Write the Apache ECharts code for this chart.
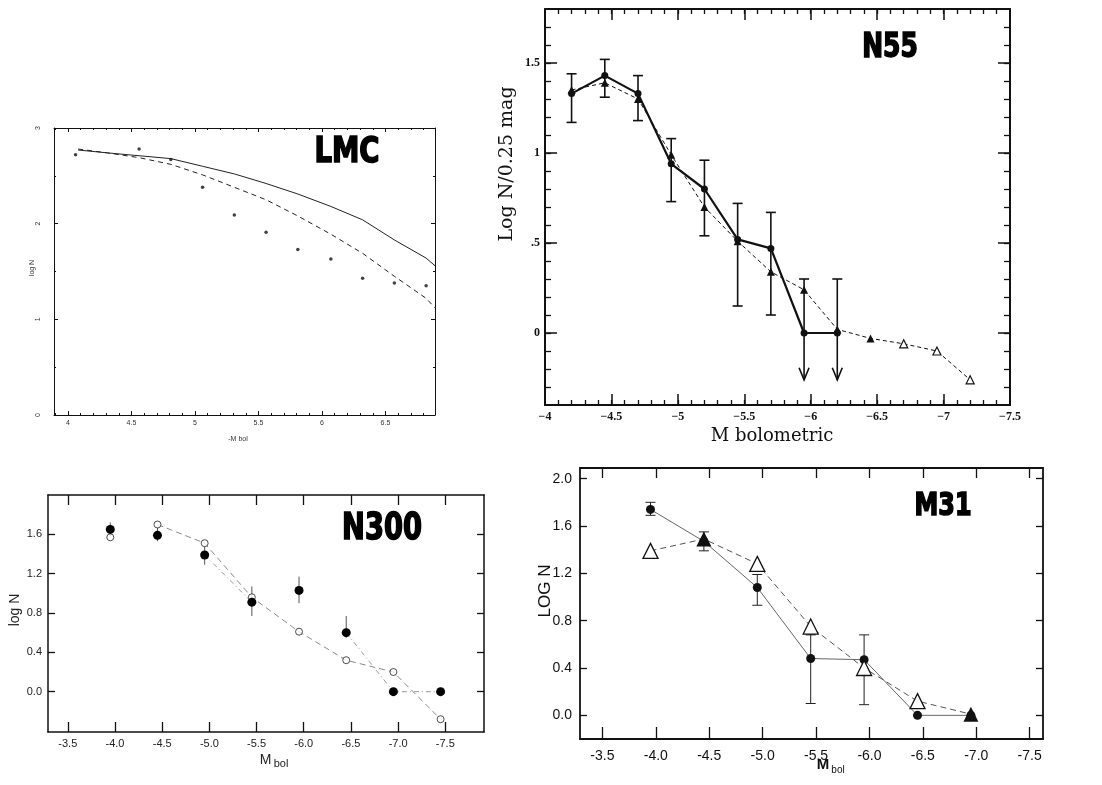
<!DOCTYPE html>
<html>
<head>
<meta charset="utf-8">
<script src="https://cdn.jsdelivr.net/npm/echarts@6/dist/echarts.min.js"></script>
<style>
html,body{margin:0;padding:0;background:#fff;}
#c{width:1102px;height:785px;}
</style>
</head>
<body>
<div id="c"></div>
<script>
// ================= DATA =================
// --- LMC panel ---
const lmcObsX = [4.06, 4.56, 4.81, 5.06, 5.31, 5.56, 5.81, 6.07, 6.32, 6.57, 6.82];
const lmcObsY = [2.72, 2.78, 2.67, 2.38, 2.09, 1.91, 1.73, 1.63, 1.43, 1.38, 1.35];
const lmcModelX = [4.08, 4.31, 4.56, 4.81, 5.06, 5.31, 5.56, 5.81, 6.07, 6.32, 6.57, 6.82, 6.89];
const lmcSolidY = [2.77, 2.74, 2.71, 2.68, 2.60, 2.52, 2.42, 2.31, 2.18, 2.04, 1.83, 1.64, 1.56];
const lmcDashedY = [2.78, 2.74, 2.69, 2.62, 2.51, 2.38, 2.25, 2.08, 1.89, 1.69, 1.45, 1.22, 1.12];
const lmcTicksX = [4, 4.5, 5, 5.5, 6, 6.5];
const lmcLabelsX = ['4', '4.5', '5', '5.5', '6', '6.5'];
const lmcTicksY = [0, 1, 2, 3];
const lmcLabelsY = ['0', '1', '2', '3'];

// --- N55 panel ---
const n55X = [-4.2, -4.45, -4.7, -4.95, -5.2, -5.45, -5.7, -5.95, -6.2];
const n55Y = [1.33, 1.43, 1.33, 0.94, 0.80, 0.52, 0.47, 0.0, 0.0];
const n55ErrHi = [1.44, 1.52, 1.43, 1.08, 0.96, 0.72, 0.67, 0.30, 0.30];
const n55ErrLo = [1.17, 1.31, 1.18, 0.73, 0.54, 0.15, 0.10, -0.26, -0.26];
const n55UpperLimit = [0, 0, 0, 0, 0, 0, 0, 1, 1];
const n55TriX = [-4.2, -4.45, -4.7, -4.95, -5.2, -5.45, -5.7, -5.95, -6.2, -6.45, -6.7, -6.95, -7.2];
const n55TriY = [1.35, 1.39, 1.30, 0.99, 0.70, 0.51, 0.34, 0.24, 0.02, -0.03, -0.06, -0.10, -0.26];
const n55TriOpen = [0, 0, 0, 0, 0, 0, 0, 0, 0, 0, 1, 1, 1];
const n55TicksX = [-4, -4.5, -5, -5.5, -6, -6.5, -7, -7.5];
const n55LabelsX = ['\u22124', '\u22124.5', '\u22125', '\u22125.5', '\u22126', '\u22126.5', '\u22127', '\u22127.5'];
const n55TicksY = [0, 0.5, 1, 1.5];
const n55LabelsY = ['0', '.5', '1', '1.5'];

// --- N300 panel ---
const n300X = [-3.95, -4.45, -4.95, -5.45, -5.95, -6.45, -6.95, -7.45];
const n300Filled = [1.65, 1.59, 1.39, 0.91, 1.03, 0.60, 0.0, 0.0];
const n300FilledJoined = [0, 0, 1, 1, 0, 1, 1, 1];
const n300ErrHi = [1.72, 1.67, 1.48, 1.07, 1.17, 0.77, null, null];
const n300ErrLo = [1.58, 1.53, 1.29, 0.77, 0.90, 0.55, null, null];
const n300Open = [1.57, 1.70, 1.51, 0.96, 0.61, 0.32, 0.20, -0.28];
const n300OpenJoined = [0, 1, 1, 1, 1, 1, 1, 1];
const n300TicksX = [-3.5, -4.0, -4.5, -5.0, -5.5, -6.0, -6.5, -7.0, -7.5];
const n300LabelsX = ['-3.5', '-4.0', '-4.5', '-5.0', '-5.5', '-6.0', '-6.5', '-7.0', '-7.5'];
const n300TicksY = [0, 0.4, 0.8, 1.2, 1.6];
const n300LabelsY = ['0.0', '0.4', '0.8', '1.2', '1.6'];

// --- M31 panel ---
const m31X = [-3.95, -4.45, -4.95, -5.45, -5.95, -6.45, -6.95];
const m31Filled = [1.74, 1.47, 1.08, 0.48, 0.47, 0.0, 0.0];
const m31ErrHi = [1.80, 1.55, 1.19, 0.68, 0.68, null, null];
const m31ErrLo = [1.69, 1.39, 0.93, 0.10, 0.09, null, null];
const m31Open = [1.39, 1.49, 1.28, 0.75, 0.40, 0.12, 0.01];
const m31TriFilled = [0, 1, 0, 0, 0, 0, 1];
const m31TicksX = [-3.5, -4.0, -4.5, -5.0, -5.5, -6.0, -6.5, -7.0, -7.5];
const m31LabelsX = ['-3.5', '-4.0', '-4.5', '-5.0', '-5.5', '-6.0', '-6.5', '-7.0', '-7.5'];
const m31TicksY = [0, 0.4, 0.8, 1.2, 1.6, 2.0];
const m31LabelsY = ['0.0', '0.4', '0.8', '1.2', '1.6', '2.0'];

// ================= helpers =================
function steps(a, b, s) {
  const out = [];
  for (let v = a; v <= b + 1e-9; v += s) out.push(Math.round(v * 1000) / 1000);
  return out;
}
function nearestIdx(arr, v) {
  let bi = 0, bd = Infinity;
  arr.forEach((a, i) => { const d = Math.abs(a - v); if (d < bd) { bd = d; bi = i; } });
  return bi;
}
function zip(xs, ys) { return xs.map((x, i) => [x, ys[i]]); }
function zipJoined(xs, ys, joined) { return xs.map((x, i) => [x, joined[i] ? ys[i] : null]); }

function axis(grid, pos, min, max, inv, ticks, tickLen, lineW, labels, labelStyle, tickW) {
  const a = {
    type: 'value', gridIndex: grid, position: pos, min: min, max: max, inverse: !!inv, silent: true,
    splitLine: { show: false }, splitArea: { show: false },
    axisLine: { show: lineW > 0, onZero: false, lineStyle: { color: '#111', width: lineW > 0 ? lineW : 1 } },
    axisTick: { show: ticks.length > 0, inside: true, length: tickLen, customValues: ticks,
      lineStyle: { color: '#111', width: tickW || 1 } },
    axisLabel: { show: false },
    axisPointer: { show: false }
  };
  if (labels) {
    a.axisLabel = Object.assign({
      show: true, customValues: labels.v,
      formatter: (v) => labels.t[nearestIdx(labels.v, v)]
    }, labelStyle);
  }
  return a;
}

function errRender(color, width, cap) {
  return function (params, api) {
    const x = api.value(0), lo = api.value(1), hi = api.value(2), lim = api.value(3);
    const top = api.coord([x, hi]), bot = api.coord([x, lo]);
    const st = () => ({ stroke: color, lineWidth: width, fill: null });
    const ch = [{ type: 'line', shape: { x1: top[0], y1: top[1], x2: bot[0], y2: bot[1] }, style: st() }];
    if (cap > 0) ch.push({ type: 'line', shape: { x1: top[0] - cap, y1: top[1], x2: top[0] + cap, y2: top[1] }, style: st() });
    if (lim) {
      ch.push({ type: 'polyline', shape: { points: [[bot[0] - 5, bot[1] - 12], [bot[0], bot[1]], [bot[0] + 5, bot[1] - 12]] }, style: st() });
    } else if (cap > 0) {
      ch.push({ type: 'line', shape: { x1: bot[0] - cap, y1: bot[1], x2: bot[0] + cap, y2: bot[1] }, style: st() });
    }
    return { type: 'group', children: ch };
  };
}
function errData(xs, lo, hi, lim) {
  const out = [];
  xs.forEach((x, i) => {
    if (lo[i] === null || hi[i] === null) return;
    out.push([x, lo[i], hi[i], lim ? lim[i] : 0]);
  });
  return out;
}

// ================= layout =================
const G = [
  { left: 54, top: 128, width: 381, height: 287 },   // LMC
  { left: 545, top: 9, width: 465, height: 396 },    // N55
  { left: 48, top: 495, width: 436, height: 237 },   // N300
  { left: 580, top: 468, width: 463, height: 271 }   // M31
];
const grids = G.concat([G[0], G[1]]); // overlay grids for minor ticks

const SERIF = "'Liberation Serif', 'DejaVu Serif', serif";
const SANS = "'Liberation Sans', Arial, sans-serif";
const NARROW = "'Liberation Sans Narrow', 'DejaVu Sans Condensed', 'Arial Narrow', sans-serif";

const lmcLbl = { fontSize: 7, color: '#333', fontFamily: SANS };
const n55Lbl = { fontSize: 12, color: '#111', fontFamily: SERIF, fontWeight: 'bold' };
const n300Lbl = { fontSize: 11, color: '#222', fontFamily: SANS };
const m31Lbl = { fontSize: 14, color: '#111', fontFamily: SANS };

const xAxes = [
  // LMC 0,1
  axis(0, 'bottom', 3.89, 6.89, false, lmcTicksX, 4, 1, { v: lmcTicksX, t: lmcLabelsX }, Object.assign({}, lmcLbl, { margin: 5 })),
  axis(0, 'top', 3.89, 6.89, false, lmcTicksX, 4, 1),
  // N55 2,3
  axis(1, 'bottom', -7.5, -4, true, n55TicksX, 11, 2, { v: n55TicksX, t: n55LabelsX }, Object.assign({}, n55Lbl, { margin: 6 }), 1.5),
  axis(1, 'top', -7.5, -4, true, n55TicksX, 11, 2, null, null, 1.5),
  // N300 4,5
  axis(2, 'bottom', -7.91, -3.29, true, n300TicksX, 10, 1.5, { v: n300TicksX, t: n300LabelsX }, Object.assign({}, n300Lbl, { margin: 6 }), 1.3),
  axis(2, 'top', -7.91, -3.29, true, n300TicksX, 10, 1.5, null, null, 1.3),
  // M31 6,7
  axis(3, 'bottom', -7.625, -3.29, true, m31TicksX, 12, 1.8, { v: m31TicksX, t: m31LabelsX }, Object.assign({}, m31Lbl, { margin: 10 }), 1.3),
  axis(3, 'top', -7.625, -3.29, true, m31TicksX, 10, 1.8, null, null, 1.3),
  // overlays: LMC minor 8,9 ; N55 minor 10,11
  axis(4, 'bottom', 3.89, 6.89, false, steps(3.9, 6.8, 0.1), 2, 0),
  axis(4, 'top', 3.89, 6.89, false, steps(3.9, 6.8, 0.1), 2, 0),
  axis(5, 'bottom', -7.5, -4, true, steps(-7.4, -4.1, 0.1), 5, 0, null, null, 1.3),
  axis(5, 'top', -7.5, -4, true, steps(-7.4, -4.1, 0.1), 5, 0, null, null, 1.3)
];
const yAxes = [
  axis(0, 'left', 0, 3, false, lmcTicksY, 4, 1, { v: lmcTicksY, t: lmcLabelsY }, Object.assign({}, lmcLbl, { rotate: 90, margin: 12 })),
  axis(0, 'right', 0, 3, false, lmcTicksY, 4, 1),
  axis(1, 'left', -0.4, 1.8, false, n55TicksY, 12, 2, { v: n55TicksY, t: n55LabelsY }, Object.assign({}, n55Lbl, { margin: 5 }), 1.5),
  axis(1, 'right', -0.4, 1.8, false, n55TicksY, 12, 2, null, null, 1.5),
  axis(2, 'left', -0.41, 2.0, false, n300TicksY, 7, 1.5, { v: n300TicksY, t: n300LabelsY }, Object.assign({}, n300Lbl, { margin: 6 }), 1.3),
  axis(2, 'right', -0.41, 2.0, false, n300TicksY, 7, 1.5, null, null, 1.3),
  axis(3, 'left', -0.2, 2.09, false, m31TicksY, 7, 1.8, { v: m31TicksY, t: m31LabelsY }, Object.assign({}, m31Lbl, { margin: 8 }), 1.3),
  axis(3, 'right', -0.2, 2.09, false, m31TicksY, 7, 1.8, null, null, 1.3),
  axis(4, 'left', 0, 3, false, steps(0.5, 2.5, 1), 2, 0),
  axis(4, 'right', 0, 3, false, steps(0.5, 2.5, 1), 2, 0),
  axis(5, 'left', -0.4, 1.8, false, steps(-0.3, 1.7, 0.1), 6, 0, null, null, 1.3),
  axis(5, 'right', -0.4, 1.8, false, steps(-0.3, 1.7, 0.1), 6, 0, null, null, 1.3)
];

const base = { animation: false, silent: true, emphasis: { disabled: true } };

const series = [
  // ---------- LMC ----------
  Object.assign({}, base, { type: 'line', xAxisIndex: 0, yAxisIndex: 0, data: zip(lmcModelX, lmcSolidY),
    symbol: 'none', lineStyle: { color: '#222', width: 1 }, z: 2 }),
  Object.assign({}, base, { type: 'line', xAxisIndex: 0, yAxisIndex: 0, data: zip(lmcModelX, lmcDashedY),
    symbol: 'none', lineStyle: { color: '#222', width: 1, type: [5, 4] }, z: 2 }),
  Object.assign({}, base, { type: 'scatter', xAxisIndex: 0, yAxisIndex: 0, data: zip(lmcObsX, lmcObsY),
    symbol: 'circle', symbolSize: 3.5, itemStyle: { color: '#111' }, z: 3 }),

  // ---------- N55 ----------
  Object.assign({}, base, { type: 'custom', xAxisIndex: 2, yAxisIndex: 2,
    data: errData(n55X, n55ErrLo, n55ErrHi, n55UpperLimit),
    encode: { x: 0, y: [1, 2] }, renderItem: errRender('#111', 1.6, 5), z: 1 }),
  Object.assign({}, base, { type: 'line', xAxisIndex: 2, yAxisIndex: 2,
    data: n55TriX.map((x, i) => n55TriOpen[i]
      ? { value: [x, n55TriY[i]], itemStyle: { color: '#fff', borderColor: '#111', borderWidth: 1.2 } }
      : { value: [x, n55TriY[i]] }),
    symbol: 'triangle', symbolSize: 8, showSymbol: true, showAllSymbol: true,
    itemStyle: { color: '#111' }, lineStyle: { color: '#111', width: 1, type: [4, 3] }, z: 2 }),
  Object.assign({}, base, { type: 'line', xAxisIndex: 2, yAxisIndex: 2, data: zip(n55X, n55Y),
    symbol: 'circle', symbolSize: 7, showSymbol: true, showAllSymbol: true,
    itemStyle: { color: '#111' }, lineStyle: { color: '#111', width: 2.2 }, z: 3 }),

  // ---------- N300 ----------
  Object.assign({}, base, { type: 'custom', xAxisIndex: 4, yAxisIndex: 4,
    data: errData(n300X, n300ErrLo, n300ErrHi, null),
    encode: { x: 0, y: [1, 2] }, renderItem: errRender('#555', 1, 0), z: 1 }),
  Object.assign({}, base, { type: 'line', xAxisIndex: 4, yAxisIndex: 4, data: zipJoined(n300X, n300Open, n300OpenJoined),
    symbol: 'none', connectNulls: false, lineStyle: { color: '#8a8a8a', width: 1, type: [6, 4] }, z: 2 }),
  Object.assign({}, base, { type: 'line', xAxisIndex: 4, yAxisIndex: 4, data: zipJoined(n300X, n300Filled, n300FilledJoined),
    symbol: 'none', connectNulls: false, lineStyle: { color: '#9a9a9a', width: 1, type: [5, 3, 1, 3] }, z: 2 }),
  Object.assign({}, base, { type: 'scatter', xAxisIndex: 4, yAxisIndex: 4, data: zip(n300X, n300Open),
    symbol: 'circle', symbolSize: 7, itemStyle: { color: '#fff', borderColor: '#222', borderWidth: 1 }, z: 3 }),
  Object.assign({}, base, { type: 'scatter', xAxisIndex: 4, yAxisIndex: 4, data: zip(n300X, n300Filled),
    symbol: 'circle', symbolSize: 9, itemStyle: { color: '#000', opacity: 1 }, z: 4 }),

  // ---------- M31 ----------
  Object.assign({}, base, { type: 'custom', xAxisIndex: 6, yAxisIndex: 6,
    data: errData(m31X, m31ErrLo, m31ErrHi, null),
    encode: { x: 0, y: [1, 2] }, renderItem: errRender('#222', 1, 5), z: 1 }),
  Object.assign({}, base, { type: 'line', xAxisIndex: 6, yAxisIndex: 6, data: zip(m31X, m31Filled),
    symbol: 'circle', symbolSize: 9, showSymbol: true, showAllSymbol: true,
    itemStyle: { color: '#111' }, lineStyle: { color: '#666', width: 1 }, z: 2 }),
  Object.assign({}, base, { type: 'line', xAxisIndex: 6, yAxisIndex: 6,
    data: m31X.map((x, i) => m31TriFilled[i]
      ? { value: [x, m31Open[i]] }
      : { value: [x, m31Open[i]], itemStyle: { color: '#fff', borderColor: '#111', borderWidth: 1.3 } }),
    symbol: 'triangle', symbolSize: 15, showSymbol: true, showAllSymbol: true,
    itemStyle: { color: '#111' }, lineStyle: { color: '#555', width: 1, type: [6, 4] }, z: 3 })
];

const txt = (x, y, text, font, extra) => Object.assign({
  type: 'text', x: x, y: y, silent: true,
  style: Object.assign({ text: text, font: font, fill: '#111', align: 'center', verticalAlign: 'middle' }, (extra && extra.style) || {})
}, extra && extra.rotation !== undefined ? { rotation: extra.rotation } : {},
   extra && extra.scaleX !== undefined ? { scaleX: extra.scaleX } : {});

const heavy = { fill: '#000', stroke: '#000', lineWidth: 1.6 };

const graphic = [
  // panel titles
  txt(347, 153, 'LMC', `bold 36px ${NARROW}`, { scaleX: 0.85, style: heavy }),
  txt(890, 48, 'N55', `bold 33px ${NARROW}`, { scaleX: 0.84, style: heavy }),
  txt(382, 529, 'N300', `bold 37px ${NARROW}`, { scaleX: 0.82, style: heavy }),
  txt(943, 507, 'M31', `bold 32px ${NARROW}`, { scaleX: 0.83, style: heavy }),
  // LMC axis titles
  txt(32, 268, 'log N', `7px ${SANS}`, { rotation: Math.PI / 2, style: { fill: '#333' } }),
  txt(238, 439, '-M bol', `7px ${SANS}`, { style: { fill: '#333' } }),
  // N55 axis titles
  txt(507, 164, 'Log N/0.25 mag', `19px 'DejaVu Serif', serif`, { rotation: Math.PI / 2 }),
  txt(772, 436, 'M bolometric', `18px 'DejaVu Serif', serif`),
  // N300 axis titles
  txt(15, 610, 'log N', `14px ${SANS}`, { rotation: Math.PI / 2, style: { fill: '#222' } }),
  txt(265.5, 760, 'M', `14px ${SANS}`, { style: { fill: '#222' } }),
  txt(281, 764, 'bol', `11px ${SANS}`, { style: { fill: '#222' } }),
  // M31 axis titles
  txt(545, 591, 'LOG N', `17px ${SANS}`, { rotation: Math.PI / 2 }),
  txt(823, 765, 'M', `bold 15px ${SANS}`),
  txt(838, 770, 'bol', `10px ${SANS}`)
];

const chart = echarts.init(document.getElementById('c'), null, { renderer: 'canvas', width: 1102, height: 785 });
chart.setOption({
  animation: false,
  backgroundColor: '#fff',
  grid: grids,
  xAxis: xAxes,
  yAxis: yAxes,
  series: series,
  graphic: graphic
});
</script>
</body>
</html>
